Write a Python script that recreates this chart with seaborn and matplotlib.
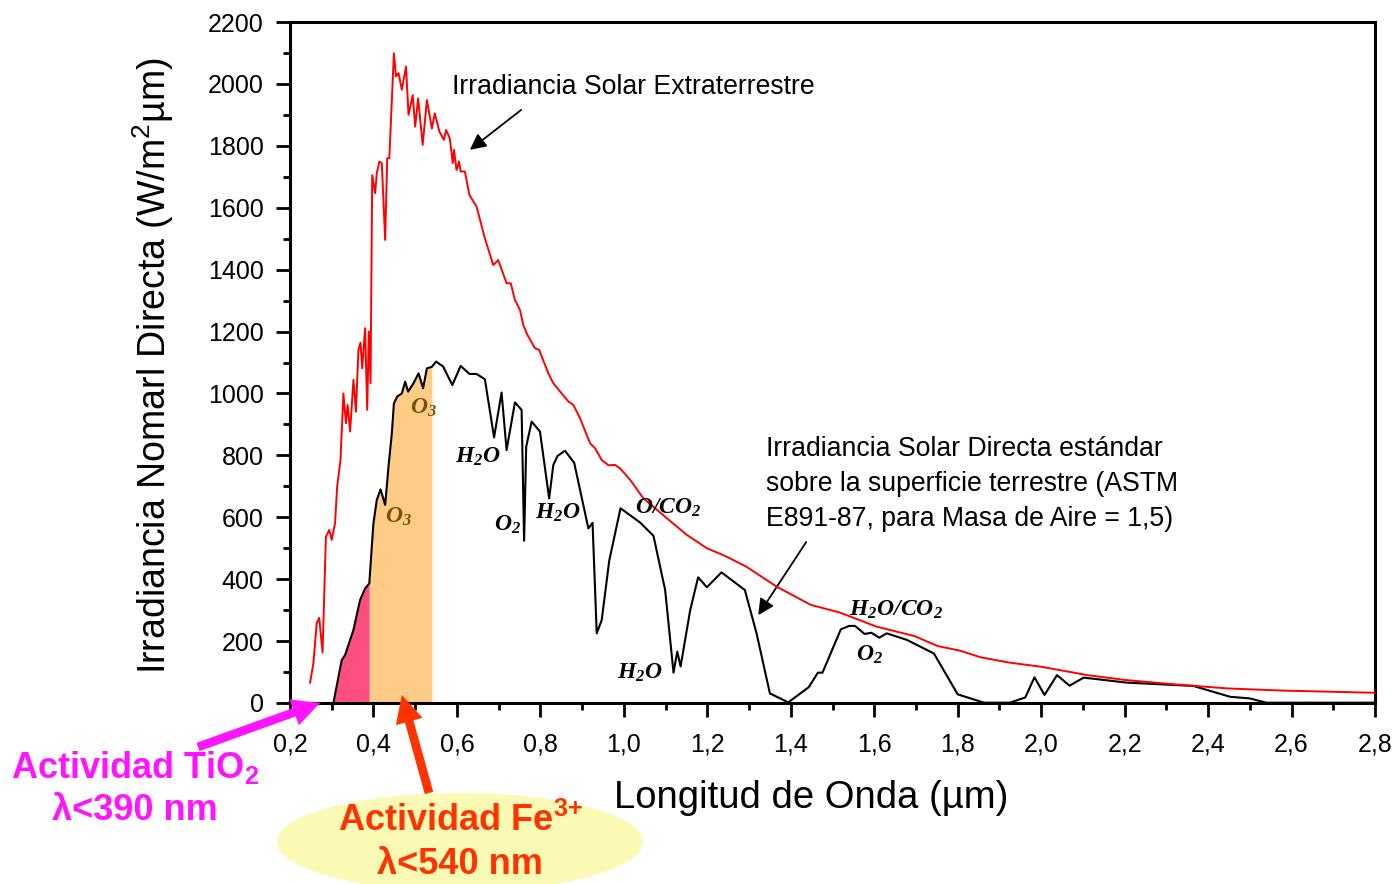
import numpy as np
import pandas as pd
import matplotlib
matplotlib.use("Agg")
import matplotlib.pyplot as plt
from matplotlib.patches import Ellipse
from matplotlib.ticker import MultipleLocator, FuncFormatter
import seaborn as sns

# Extraterrestrial solar irradiance (wavelength in µm, W/m²µm)
wl_ext = [0.248, 0.256, 0.264, 0.270, 0.278, 0.286, 0.294, 0.300, 0.308, 0.313,
          0.321, 0.328, 0.334, 0.338, 0.344, 0.352, 0.358, 0.364, 0.369, 0.373,
          0.380, 0.385, 0.389, 0.393, 0.397, 0.404, 0.408, 0.414, 0.420, 0.428,
          0.433, 0.438, 0.449, 0.454, 0.460, 0.468, 0.478, 0.484, 0.494, 0.500,
          0.507, 0.518, 0.528, 0.540, 0.547, 0.558, 0.569, 0.574, 0.583, 0.590,
          0.593, 0.599, 0.605, 0.609, 0.619, 0.630, 0.647, 0.667, 0.687, 0.699,
          0.719, 0.729, 0.739, 0.751, 0.759, 0.769, 0.787, 0.797, 0.819, 0.831,
          0.851, 0.867, 0.879, 0.895, 0.919, 0.931, 0.947, 0.963, 0.979, 0.991,
          1.015, 1.047, 1.103, 1.151, 1.199, 1.246, 1.294, 1.366, 1.448, 1.518,
          1.605, 1.697, 1.752, 1.806, 1.854, 1.921, 2.001, 2.111, 2.204, 2.313,
          2.447, 2.580, 2.800]
irr_ext = [65, 128, 258, 275, 163, 537, 559, 527, 581, 699,
           785, 1000, 904, 963, 877, 1044, 941, 1141, 1164, 1081,
           1211, 947, 1200, 1033, 1705, 1647, 1711, 1749, 1744, 1496,
           1760, 1760, 2099, 2024, 2035, 1981, 2056, 1900, 1964, 1862,
           1953, 1803, 1948, 1856, 1905, 1846, 1819, 1851, 1824, 1744,
           1787, 1722, 1749, 1717, 1717, 1641, 1604, 1501, 1415, 1431,
           1356, 1356, 1302, 1270, 1221, 1189, 1146, 1141, 1065, 1033,
           1000, 974, 963, 920, 839, 823, 785, 768, 769, 758,
           721, 661, 597, 543, 500, 473, 440, 376, 317, 292,
           247, 216, 184, 169, 148, 131, 117, 90, 74, 61,
           47, 40, 33]

# Direct normal irradiance at ground level, ASTM E891-87, air mass 1.5
wl_dir = [0.304, 0.324, 0.332, 0.352, 0.368, 0.380, 0.390, 0.396, 0.400, 0.408,
          0.417, 0.428, 0.436, 0.444, 0.449, 0.457, 0.468, 0.476, 0.483, 0.496,
          0.508, 0.519, 0.528, 0.540, 0.550, 0.567, 0.589, 0.609, 0.630, 0.647,
          0.667, 0.689, 0.707, 0.719, 0.739, 0.755, 0.761, 0.766, 0.779, 0.799,
          0.821, 0.831, 0.841, 0.859, 0.881, 0.915, 0.925, 0.935, 0.947, 0.965,
          0.992, 1.039, 1.071, 1.099, 1.119, 1.128, 1.136, 1.159, 1.178, 1.199,
          1.234, 1.290, 1.318, 1.350, 1.394, 1.443, 1.465, 1.476, 1.520, 1.540,
          1.554, 1.577, 1.593, 1.612, 1.630, 1.678, 1.743, 1.800, 1.863, 1.925,
          1.962, 1.984, 2.008, 2.038, 2.068, 2.102, 2.204, 2.365, 2.453, 2.499,
          2.540, 2.800]
irr_dir = [0, 139, 155, 236, 333, 370, 386, 505, 581, 656,
           690, 640, 763, 871, 968, 990, 1000, 1038, 1006, 1033,
           1065, 1017, 1081, 1086, 1103, 1087, 1027, 1089, 1063, 1063,
           1046, 858, 1003, 817, 971, 947, 524, 828, 909, 877,
           661, 769, 798, 815, 776, 564, 582, 225, 268, 460,
           629, 583, 540, 365, 98, 166, 118, 300, 406, 374,
           422, 365, 225, 31, 2, 51, 98, 98, 238, 249,
           249, 223, 227, 211, 225, 204, 160, 28, 1, 1,
           18, 83, 26, 90, 56, 82, 66, 55, 20, 15,
           1, 1]

# Photoactivity thresholds (µm)
tio2_cut = 0.39
fe_cut = 0.54

# Absorption band labels: (text, wavelength, irradiance, colour)
band_labels = [
    (r"$\mathbfit{O_3}$", 0.459, 601, "#7a4f00"),
    (r"$\mathbfit{O_3}$", 0.519, 953, "#7a4f00"),
    (r"$\mathbfit{H_2O}$", 0.650, 795, "black"),
    (r"$\mathbfit{O_2}$", 0.722, 575, "black"),
    (r"$\mathbfit{H_2O}$", 0.842, 614, "black"),
    (r"$\mathbfit{O/CO_2}$", 1.106, 630, "black"),
    (r"$\mathbfit{H_2O}$", 1.039, 97, "black"),
    (r"$\mathbfit{H_2O/CO_2}$", 1.652, 300, "black"),
    (r"$\mathbfit{O_2}$", 1.590, 155, "black"),
]

sns.set_theme(style="ticks")
plt.rcParams["font.family"] = ["Liberation Sans", "DejaVu Sans"]
plt.rcParams["text.color"] = "black"
plt.rcParams["axes.labelcolor"] = "black"
plt.rcParams["xtick.color"] = "black"
plt.rcParams["ytick.color"] = "black"
plt.rcParams["mathtext.fontset"] = "custom"
plt.rcParams["mathtext.rm"] = "Liberation Sans"
plt.rcParams["mathtext.it"] = "Liberation Sans:italic"
plt.rcParams["mathtext.bf"] = "Liberation Sans:bold"
plt.rcParams["mathtext.bfit"] = "Liberation Serif:italic:bold"

W, H = 1393, 884
fig = plt.figure(figsize=(W / 100, H / 100), dpi=100)
ax = fig.add_axes([290 / W, 1 - 703 / H, 1085 / W, 681 / H])

ext = pd.DataFrame({"wl": wl_ext, "irr": irr_ext})
direct = pd.DataFrame({"wl": wl_dir, "irr": irr_dir})


def band(lo, hi):
    xs = [lo] + [w for w in wl_dir if lo < w < hi] + [hi]
    return xs, np.interp(xs, wl_dir, irr_dir)


xs, ys = band(wl_dir[0], tio2_cut)
ax.fill_between(xs, 0, ys, color="#ff4f81", lw=0, zorder=1)
xs, ys = band(tio2_cut, fe_cut)
ax.fill_between(xs, 0, ys, color="#ffcc88", lw=0, zorder=1)

sns.lineplot(data=direct, x="wl", y="irr", estimator=None, color="black",
             lw=1.5, ax=ax, zorder=3)
sns.lineplot(data=ext, x="wl", y="irr", estimator=None, color="red",
             lw=1.4, ax=ax, zorder=4)

ax.set_xlim(0.2, 2.8)
ax.set_ylim(0, 2200)
ax.xaxis.set_major_locator(MultipleLocator(0.2))
ax.xaxis.set_minor_locator(MultipleLocator(0.1))
ax.yaxis.set_major_locator(MultipleLocator(200))
ax.yaxis.set_minor_locator(MultipleLocator(100))
ax.xaxis.set_major_formatter(FuncFormatter(lambda v, p: f"{v:.1f}".replace(".", ",")))
ax.yaxis.set_major_formatter(FuncFormatter(lambda v, p: f"{v:.0f}"))

for s in ax.spines.values():
    s.set_linewidth(2.2)
    s.set_color("black")
ax.tick_params(which="major", direction="out", length=10, width=2.0,
               labelsize=18, colors="black")
ax.tick_params(axis="x", which="major", pad=11)
ax.tick_params(axis="y", which="major", pad=9)
ax.tick_params(which="minor", direction="out", length=5, width=2.0)
ax.tick_params(top=False, right=False, which="both")

ax.set_xlabel("Longitud de Onda (µm)", fontsize=27.5)
ax.set_ylabel("Irradiancia Nomarl Directa (W/m$^{2}$µm)", fontsize=27)
ax.xaxis.label.set_va("center")
ax.yaxis.label.set_va("center")
ax.xaxis.set_label_coords((811 - 290) / 1085, (703 - 798) / 681)
ax.yaxis.set_label_coords((153 - 290) / 1085, (703 - 366) / 681)

for txt, x, y, c in band_labels:
    ax.text(x, y, txt, color=c, fontsize=17, ha="center", va="center", zorder=5)

# Curve descriptions with pointer arrows
ax.text(0.588, 1990, "Irradiancia Solar Extraterrestre", fontsize=19.2,
        ha="left", va="center")
ax.annotate("", xy=(0.631, 1787), xytext=(0.754, 1916),
            arrowprops=dict(arrowstyle="-|>", mutation_scale=24, lw=1.3,
                            color="black", shrinkA=0, shrinkB=0))
ax.text(1.341, 708,
        "Irradiancia Solar Directa estándar\nsobre la superficie terrestre (ASTM\nE891-87, para Masa de Aire = 1,5)",
        fontsize=19.2, ha="left", va="center", linespacing=1.44)
ax.annotate("", xy=(1.322, 284), xytext=(1.437, 520),
            arrowprops=dict(arrowstyle="-|>", mutation_scale=24, lw=1.3,
                            color="black", shrinkA=0, shrinkB=0))

# Photocatalyst activity callouts below the axes
magenta = "#ff14ff"
orange_red = "#ff3300"
ax.annotate("", xy=(0.272, 0), xycoords="data",
            xytext=(198 / W, 1 - 747 / H), textcoords="figure fraction",
            annotation_clip=False,
            arrowprops=dict(arrowstyle="simple,head_length=1.1,head_width=1.1,tail_width=0.35",
                            mutation_scale=18, color=magenta, lw=0,
                            shrinkA=0, shrinkB=0))
fig.text(135 / W, 1 - 767 / H, "Actividad TiO$_\\mathbf{2}$", color=magenta,
         fontsize=26, fontweight="bold", ha="center", va="center")
fig.text(135 / W, 1 - 810 / H, "λ<390 nm", color=magenta,
         fontsize=26, fontweight="bold", ha="center", va="center")

ell = Ellipse((460 / W, 1 - 842 / H), 366 / W, 98 / H, transform=fig.transFigure,
              facecolor="#fafab4", edgecolor="none", zorder=0)
fig.add_artist(ell)
ax.annotate("", xy=(0.468, 26), xycoords="data",
            xytext=(429 / W, 1 - 793 / H), textcoords="figure fraction",
            annotation_clip=False,
            arrowprops=dict(arrowstyle="simple,head_length=1.1,head_width=1.1,tail_width=0.35",
                            mutation_scale=18, color=orange_red, lw=0,
                            shrinkA=0, shrinkB=0))
fig.text(460 / W, 1 - 821 / H, "Actividad Fe$^{\\mathbf{3{+}}}$", color=orange_red,
         fontsize=26, fontweight="bold", ha="center", va="center")
fig.text(460 / W, 1 - 864 / H, "λ<540 nm", color=orange_red,
         fontsize=26, fontweight="bold", ha="center", va="center")

fig.savefig("out.png", dpi=100)
